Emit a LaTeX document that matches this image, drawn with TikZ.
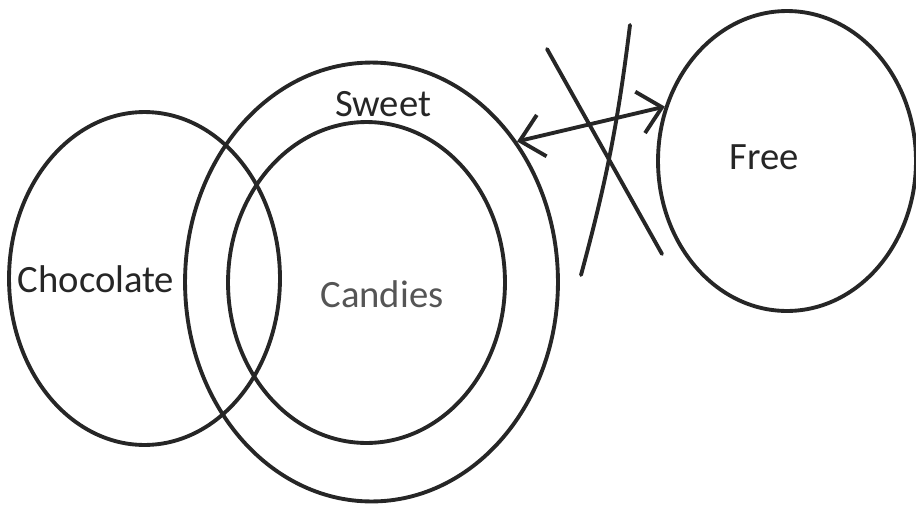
\documentclass[tikz,border=0pt]{standalone}
\usepackage{fontspec}
\setmainfont{Carlito}
\definecolor{ink}{RGB}{38,38,38}
\definecolor{fadeink}{RGB}{85,85,85}
\usetikzlibrary{arrows.meta, positioning, shapes.geometric}

\begin{document}
\begin{tikzpicture}[x=0.02cm,y=-0.02cm,
        font=\fontsize{22}{26}\selectfont,
        set/.style={draw=ink,ellipse,line width=2.2pt,inner sep=0pt},
        setlabel/.style={text=ink,inner sep=0pt},
        strike/.style={draw=ink,line width=2.2pt,line cap=round}]
      \useasboundingbox (0,0) rectangle (916,504);
      % the sets
      \node[set,minimum width=5.42cm,minimum height=6.66cm] (choc) at (144.5,278.5) {};
      \node[set,minimum width=7.46cm,minimum height=8.78cm] (sweet) at (371.5,282) {};
      \node[set,minimum width=5.54cm,minimum height=6.42cm] (cand) at (366.5,282.5) {};
      \node[set,minimum width=5.16cm,minimum height=6.0cm] (free) at (787,161) {};
      % labels
      \node[setlabel] (chocl) at (96,279) {Chocolate};
      \node[setlabel] (sweetl) at (383,104) {Sweet};
      \node[setlabel,text=fadeink] (candl) at (382,294) {Candies};
      \node[setlabel] (freel) at (764,157) {Free};
      % relation, crossed out
      \draw[ink,line width=2.2pt,{Straight Barb[length=4.5mm,width=8.5mm]}-{Straight Barb[length=4.5mm,width=8.5mm]}]
        (sweet.44) -- (free.156);
      \draw[strike] (547,49) -- (662,254);
      \draw[strike] (630,25) to[bend left=4] (581,275);
    \end{tikzpicture}
\end{document}
